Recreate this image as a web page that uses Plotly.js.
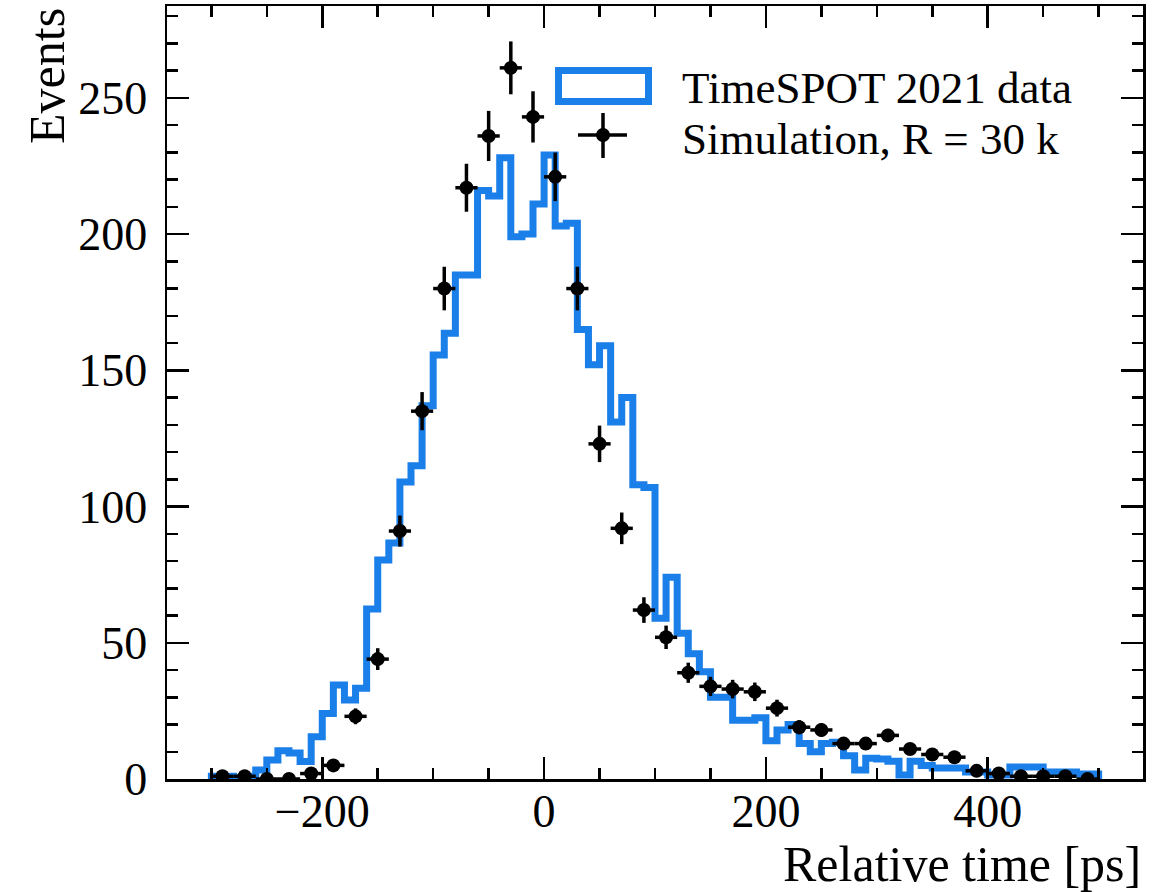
<!DOCTYPE html>
<html>
<head>
<meta charset="utf-8">
<script src="https://cdn.plot.ly/plotly-3.0.1.min.js"></script>
<style>
  html, body { margin: 0; padding: 0; background: #ffffff; }
  #chart { width: 1166px; height: 892px; }
  .scatterlayer .js-line { stroke-linejoin: miter; stroke-linecap: butt; }
</style>
</head>
<body>
<div id="chart"></div>
<script>
// ---------------- data ----------------
// Simulation histogram: 10 ps bins from -300 ps to 500 ps
const simBinStart = -300;
const simBinWidth = 10;
const simCounts = [
  1, 1, 0.5, 1, 3.3, 7, 10.4, 9.5, 6.4, 15.5,          // -300 .. -200
  24, 34.5, 29, 33.3, 62.4, 80.4, 86.6, 109, 115, 137,  // -200 .. -100
  155.6, 163.6, 185, 185, 216, 214, 228, 199, 200, 211, // -100 .. 0
  229, 203, 204, 165, 152, 159, 131, 140, 108, 107,     // 0 .. 100
  59, 74, 53.5, 46, 39.4, 30, 30, 21.6, 21.6, 22.5,     // 100 .. 200
  14, 18, 20, 13, 10, 13, 13.5, 8.5, 3.3, 7.6,          // 200 .. 300
  7.3, 6.5, 1.5, 6.5, 5, 4, 4, 4, 2.6, 2.6,             // 300 .. 400
  1.5, 1.5, 4.4, 4.4, 4.4, 2.6, 2.6, 2.6, 1.8, 1.8      // 400 .. 500
];

// TimeSPOT 2021 data points: 20 ps bins, centres -290 .. 490
const dataTime = [
  -290, -270, -250, -230, -210, -190, -170, -150, -130, -110,
  -90, -70, -50, -30, -10, 10, 30, 50, 70, 90,
  110, 130, 150, 170, 190, 210, 230, 250, 270, 290,
  310, 330, 350, 370, 390, 410, 430, 450, 470, 490
];
const dataCounts = [
  1, 1, 0, 0, 2, 5, 23, 44, 91, 135,
  180, 217, 236, 261, 243, 221, 180, 123, 92, 62,
  52, 39, 34, 33, 32, 26, 19, 18, 13, 13,
  16, 11, 9, 8, 3, 2, 1, 1, 1, 0
];
const dataErr = [
  0.6, 0.6, 0, 0, 0.8, 1.3, 2.9, 4, 5.7, 7,
  8, 8.8, 9.2, 9.7, 9.4, 8.9, 8, 6.7, 5.8, 4.7,
  4.3, 3.7, 3.5, 3.4, 3.4, 3.1, 2.6, 2.5, 2.2, 2.2,
  2.4, 2, 1.8, 1.7, 1, 0.8, 0.6, 0.6, 0.6, 0
];
const dataHalfWidth = 10;

const legendLabels = ["TimeSPOT 2021 data", "Simulation, R = 30 k"];
const xTitle = "Relative time [ps]";
const yTitle = "Events";

// ---------------- build step outline ----------------
const stepX = [simBinStart];
const stepY = [0];
for (let i = 0; i < simCounts.length; i++) {
  stepX.push(simBinStart + i * simBinWidth);
  stepY.push(simCounts[i]);
}
stepX.push(simBinStart + simCounts.length * simBinWidth);
stepY.push(0);

const BLUE = "#1a7fe8";
const FONT = "Liberation Serif, Times New Roman, serif";

const traces = [
  {
    type: "scatter", mode: "lines", x: stepX, y: stepY,
    line: { shape: "hv", color: BLUE, width: 7 },
    hoverinfo: "skip", showlegend: false
  },
  {
    type: "scatter", mode: "markers", x: dataTime, y: dataCounts,
    marker: { color: "#000000", size: 14 },
    error_y: { type: "data", array: dataErr, visible: true, color: "#000000", thickness: 3.5, width: 0 },
    error_x: { type: "constant", value: dataHalfWidth, visible: true, color: "#000000", thickness: 3.5, width: 0 },
    showlegend: false
  }
];

// plot-area pixel helpers for legend placement (paper units)
const L = 167, R = 1143, T = 6, B = 779;
const px = v => (v - L) / (R - L);
const py = v => (B - v) / (B - T);

const axisCommon = {
  showline: true, linecolor: "#000000", linewidth: 2.5, mirror: "allticks",
  ticks: "inside", ticklen: 22, tickwidth: 2.5, tickcolor: "#000000",
  showgrid: false, zeroline: false,
  tickfont: { family: FONT, size: 46, color: "#000000" }
};

const layout = {
  width: 1166, height: 892,
  margin: { l: L, r: 1166 - R, t: T, b: 892 - B },
  paper_bgcolor: "#ffffff", plot_bgcolor: "#ffffff",
  showlegend: false,
  xaxis: Object.assign({}, axisCommon, {
    range: [-340, 540], tickmode: "linear", tick0: 0, dtick: 200,
    minor: { ticks: "inside", ticklen: 11, tickwidth: 2.5, tickcolor: "#000000", dtick: 50, tick0: 0, showgrid: false },
    ticklabelstandoff: -10
  }),
  yaxis: Object.assign({}, axisCommon, {
    range: [0, 283.7], tickmode: "linear", tick0: 0, dtick: 50,
    minor: { ticks: "inside", ticklen: 11, tickwidth: 2.5, tickcolor: "#000000", dtick: 10, tick0: 0, showgrid: false },
    ticklabelstandoff: 8
  }),
  shapes: [
    // legend: outlined box for the histogram entry
    { type: "rect", xref: "paper", yref: "paper",
      x0: px(558.5), x1: px(648.5), y0: py(101.5), y1: py(70.5),
      line: { color: BLUE, width: 7 }, fillcolor: "rgba(0,0,0,0)" },
    // legend: data-point symbol (error cross + dot)
    { type: "line", xref: "paper", yref: "paper",
      x0: px(578), x1: px(627), y0: py(135), y1: py(135),
      line: { color: "#000000", width: 3.5 } },
    { type: "line", xref: "paper", yref: "paper",
      x0: px(603), x1: px(603), y0: py(113), y1: py(158),
      line: { color: "#000000", width: 3.5 } },
    { type: "circle", xref: "paper", yref: "paper",
      x0: px(596), x1: px(610), y0: py(142), y1: py(128),
      line: { color: "#000000", width: 0 }, fillcolor: "#000000" }
  ],
  annotations: [
    { text: legendLabels[0], xref: "paper", yref: "paper", x: px(680), y: py(88),
      xanchor: "left", yanchor: "middle", showarrow: false,
      font: { family: FONT, size: 45, color: "#000000" } },
    { text: legendLabels[1], xref: "paper", yref: "paper", x: px(680), y: py(139),
      xanchor: "left", yanchor: "middle", showarrow: false,
      font: { family: FONT, size: 45, color: "#000000" } },
    { text: xTitle, xref: "paper", yref: "paper", x: 1.0, y: py(864),
      xanchor: "right", yanchor: "middle", showarrow: false,
      font: { family: FONT, size: 50, color: "#000000" } },
    { text: yTitle, xref: "paper", yref: "paper", x: px(47), y: 1.0,
      xanchor: "center", yanchor: "top", textangle: -90, showarrow: false,
      font: { family: FONT, size: 50, color: "#000000" } }
  ]
};

Plotly.newPlot("chart", traces, layout, { staticPlot: true, displayModeBar: false });
</script>
</body>
</html>
